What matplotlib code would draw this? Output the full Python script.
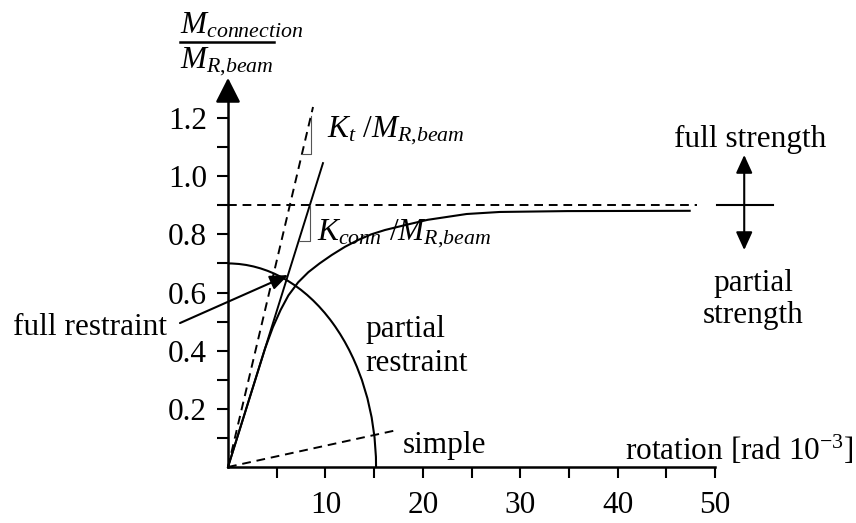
import numpy as np
import matplotlib
matplotlib.use("Agg")
import matplotlib.pyplot as plt
from matplotlib.patches import Arc

plt.rcParams['font.family'] = ['Liberation Serif', 'DejaVu Serif']
plt.rcParams['mathtext.fontset'] = 'custom'
plt.rcParams['mathtext.rm'] = 'Liberation Serif'
plt.rcParams['mathtext.it'] = 'Liberation Serif:italic'
plt.rcParams['mathtext.bf'] = 'Liberation Serif:bold'

FS = 22.5

# moment-rotation curve of the connection (rotation in rad 10^-3, M / M_R,beam)
curve_rot = [0, 2.4, 3.8, 4.6, 5.4, 6.2, 7.2, 8.25, 9.4, 10.65, 12.0, 13.38,
             14.7, 16.12, 18.2, 20.5, 24.5, 27.9, 34.8, 47.4]
curve_m = [0, 0.257, 0.407, 0.48, 0.54, 0.59, 0.635, 0.67, 0.70, 0.729, 0.757,
           0.781, 0.80, 0.815, 0.832, 0.85, 0.87, 0.877, 0.880, 0.881]

# stiffness lines
kt_rot, kt_m = [0, 8.73], [0, 1.238]
kconn_rot, kconn_m = [0, 9.75], [0, 1.045]
simple_rot, simple_m = [0, 17.35], [0, 0.127]

# full strength level
strength_m = 0.9
strength_end = 48.2

# full / partial restraint boundary (quarter ellipse)
bound_rot = 15.2
bound_m = 0.70

# small slope triangles
kt_tri_x, kt_tri_y = [7.6, 8.52, 8.52], [1.077, 1.077, 1.208]
kconn_tri_x, kconn_tri_y = [7.3, 8.42, 8.42], [0.777, 0.777, 0.90]

xticks = [10, 20, 30, 40, 50]
xminor = [5, 15, 25, 35, 45]
yticks = [0.2, 0.4, 0.6, 0.8, 1.0, 1.2]
yminor = [0.1, 0.3, 0.5, 0.7, 0.9, 1.1]

fig = plt.figure(figsize=(8.56, 5.23), dpi=100)
ax = fig.add_axes([0, 0, 1, 1])
ax.set_xlim(-23.409, 64.476)
ax.set_ylim(-0.19257, 1.60591)

for s in ['top', 'right']:
    ax.spines[s].set_visible(False)
ax.spines['left'].set_position(('data', 0))
ax.spines['bottom'].set_position(('data', 0))
ax.spines['bottom'].set_bounds(0, 50)
ax.spines['left'].set_bounds(0, 1.30)
for s in ['left', 'bottom']:
    ax.spines[s].set_linewidth(1.8)

ax.set_xticks(xticks)
ax.set_xticks(xminor, minor=True)
ax.set_yticks(yticks)
ax.set_yticks(yminor, minor=True)
ax.set_xticklabels([str(t) for t in xticks])
ax.set_yticklabels(['%.1f' % t for t in yticks])
ax.tick_params(which='both', direction='out', length=8, width=1.5, labelsize=FS)
ax.tick_params(axis='x', pad=9)
ax.tick_params(axis='y', pad=7)

# y-axis arrow head
ax.annotate('', xy=(0, 1.338), xytext=(0, 1.27),
            arrowprops=dict(arrowstyle='-|>,head_length=0.75,head_width=0.38',
                            lw=1.8, color='k', shrinkA=0, shrinkB=0,
                            mutation_scale=20))

dash = (0, (4.5, 3))
ax.plot(kt_rot, kt_m, color='k', lw=1.4, ls=dash)
ax.plot(kconn_rot, kconn_m, color='k', lw=1.4)
ax.plot(simple_rot, simple_m, color='k', lw=1.4, ls=dash)
ax.plot([0, strength_end], [strength_m, strength_m], color='k', lw=1.4, ls=dash)
ax.plot(curve_rot, curve_m, color='k', lw=1.5)
ax.add_patch(Arc((0, 0), 2 * bound_rot, 2 * bound_m, theta1=0, theta2=90,
                 color='k', lw=1.5))

ax.plot(kt_tri_x, kt_tri_y, color='#555555', lw=0.8)
ax.plot(kconn_tri_x, kconn_tri_y, color='#555555', lw=0.8)

# full / partial strength marker
ax.plot([50.2, 55.95], [strength_m, strength_m], color='k', lw=1.5)
ax.annotate('', xy=(53.0, 1.073), xytext=(53.0, 0.746),
            arrowprops=dict(arrowstyle='<|-|>,head_length=0.55,head_width=0.25',
                            lw=1.5, color='k', shrinkA=0, shrinkB=0,
                            mutation_scale=20))

# full restraint pointer
ax.annotate('', xy=(6.19, 0.660), xytext=(-4.93, 0.495),
            arrowprops=dict(arrowstyle='-|>,head_length=0.55,head_width=0.22',
                            lw=1.5, color='k', shrinkA=0, shrinkB=0,
                            mutation_scale=20))

# texts
ax.text(-4.93, 1.492, r'$M_{connection}$', fontsize=FS, va='baseline')
ax.plot([-4.93, 4.72], [1.462, 1.462], color='k', lw=1.8, clip_on=False)
ax.text(-4.93, 1.372, r'$M_{R{,}beam}$', fontsize=FS, va='baseline')

ax.text(10.13, 1.136, r'$K_t\ /M_{R{,}beam}$', fontsize=FS, va='baseline')
ax.text(9.1, 0.781, r'$K_{conn}\ /M_{R{,}beam}$', fontsize=FS, va='baseline')

ax.text(-22.07, 0.454, 'full restraint', fontsize=FS, va='baseline')
ax.text(14.07, 0.447, 'partial', fontsize=FS, va='baseline')
ax.text(14.07, 0.330, 'restraint', fontsize=FS, va='baseline')
ax.text(17.97, 0.048, 'simple', fontsize=FS, va='baseline')
ax.text(40.76, 0.024, r'rotation [rad 10$^{-3}$]', fontsize=FS, va='baseline')

ax.text(53.6, 1.100, 'full strength', fontsize=FS, va='baseline', ha='center')
ax.text(53.9, 0.605, 'partial', fontsize=FS, va='baseline', ha='center')
ax.text(53.9, 0.495, 'strength', fontsize=FS, va='baseline', ha='center')

fig.savefig('out.png', dpi=100)
